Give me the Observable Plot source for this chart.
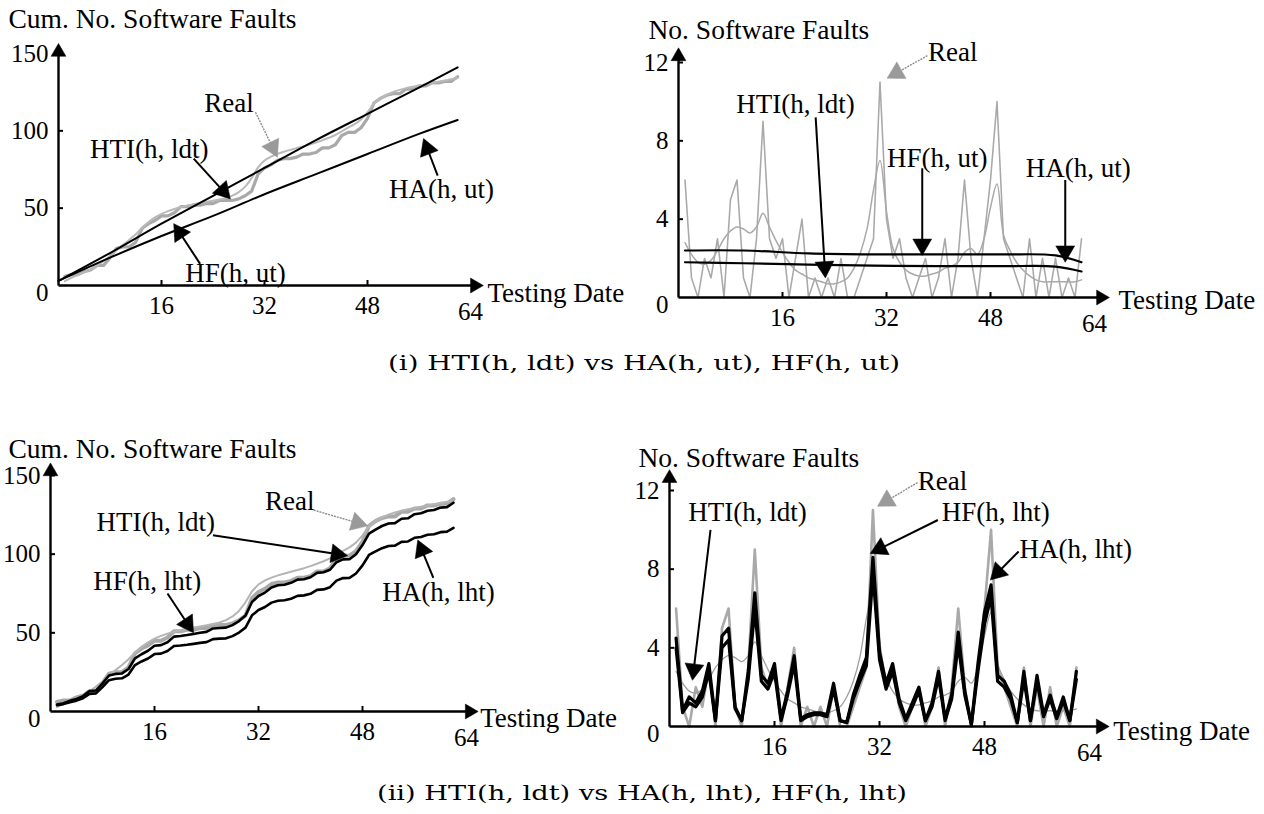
<!DOCTYPE html>
<html><head><meta charset="utf-8">
<script src="https://cdn.jsdelivr.net/npm/d3@7"></script>
<script src="https://cdn.jsdelivr.net/npm/@observablehq/plot@0.6"></script>
<style>
body{margin:0;background:#fff;}
#fig{position:relative;width:1264px;height:814px;overflow:hidden;font-family:"Liberation Serif",serif;}
.panel{position:absolute;}
</style></head><body><div id="fig"></div>
<script>
// ---------------- data ----------------
const days = d3.range(1, 63); // testing dates 1..62
const realDaily = [6,1,0,2,1,3,0,5,6,1,0,3,9,3,2,3,
  0,2,4,0,1,0,1,0,2,0,0,1,2,3,11,
  4,2,3,1,0,1,2,0,1,3,0,2,6,2,0,3,6,
  10,3,2,1,0,3,0,2,0,2,0,1,0,3];
const htiDaily = [2.8,2.2,1.8,1.7,1.9,2.4,3.0,3.4,3.6,3.5,
  3.3,3.6,4.3,3.6,2.9,2.3,1.8,1.4,1.2,1.0,
  0.9,0.8,0.7,0.7,0.8,1.0,1.5,2.3,3.5,5.5,
  7.0,4.4,2.5,1.8,1.4,1.2,1.1,1.1,1.2,1.3,
  1.5,1.6,1.8,2.3,2.5,2.2,3.0,4.6,5.8,3.2,
  2.4,1.8,1.4,1.1,0.9,0.8,0.8,0.8,0.8,0.8,0.8,0.9];
const hfLhtDaily = [4.5,0.8,1.5,1.2,1.8,3.2,0.3,4.6,5.0,1.0,0.3,2.8,6.8,2.6,2.2,3.2,
  0.4,1.8,3.6,0.4,0.6,0.7,0.7,0.6,2.2,0.3,0.2,1.6,2.6,3.5,8.6,
  3.8,2.2,3.2,1.4,0.4,1.2,2.0,0.3,1.2,2.8,0.4,1.6,4.8,1.8,0.1,3.2,5.8,
  7.2,2.6,2.3,1.6,0.2,2.8,0.3,2.6,0.6,1.6,0.5,1.5,0.3,2.8];
const haLhtDaily = [4.0,0.7,1.2,1.0,1.5,2.8,0.3,4.0,4.4,0.9,0.3,2.4,6.0,2.3,1.9,2.8,
  0.3,1.6,3.2,0.3,0.5,0.6,0.6,0.5,1.9,0.3,0.2,1.4,2.3,3.1,7.8,
  3.4,1.9,2.8,1.2,0.3,1.0,1.8,0.3,1.0,2.5,0.3,1.4,4.2,1.6,0.1,2.8,5.2,
  6.6,2.3,2.0,1.4,0.2,2.4,0.3,2.3,0.5,1.4,0.4,1.3,0.3,2.4];
// (h, ut) models
const cumKnotDays = [0, 8, 16, 24, 32, 40, 48, 56, 62];
const hfUtCum = [3, 21, 40, 58, 76, 94, 111, 128, 141];
const haUtCum = [3, 18, 32, 45, 59, 72, 85, 98, 107];
const rateKnotDays = [1, 10, 20, 30, 40, 50, 58, 62];
const hfUtRate = [2.4, 2.4, 2.25, 2.2, 2.2, 2.2, 2.15, 1.8];
const haUtRate = [1.8, 1.75, 1.68, 1.63, 1.6, 1.6, 1.58, 1.33];
// ticks
const xTicks = [16, 32, 48];
const xLastTick = [64];
const cumTicks = [50, 100, 150];
const rateTicks = [4, 8, 12];
// annotations (label position and arrow, in data units)
const notesTL = [
  {label: "Real", tx: 26.5, ty: 118, ax1: 30.6, ay1: 112, ax2: 34, ay2: 83, gray: true},
  {label: "HTI(h, ldt)", tx: 14.1, ty: 88, ax1: 21, ay1: 82, ax2: 26.7, ay2: 56},
  {label: "HA(h, ut)", tx: 59.5, ty: 62, ax1: 58.9, ay1: 71, ax2: 56.7, ay2: 95},
  {label: "HF(h, ut)", tx: 27.5, ty: 7.8, ax1: 22, ay1: 14, ax2: 17.9, ay2: 40}
];
const notesTR = [
  {label: "Real", tx: 42.2, ty: 12.5, ax1: 38.3, ay1: 12.35, ax2: 32.1, ay2: 11.2, gray: true},
  {label: "HTI(h, ldt)", tx: 18, ty: 9.85, ax1: 21.1, ay1: 9.2, ax2: 22.6, ay2: 1.0},
  {label: "HF(h, ut)", tx: 39.8, ty: 7.1, ax1: 37.5, ay1: 6.6, ax2: 37.5, ay2: 2.15},
  {label: "HA(h, ut)", tx: 61.5, ty: 6.6, ax1: 59.5, ay1: 6.0, ax2: 59.5, ay2: 1.8}
];
const notesBL = [
  {label: "Real", tx: 36.8, ty: 133.5, ax1: 40.5, ay1: 128, ax2: 48.8, ay2: 118, gray: true},
  {label: "HTI(h, ldt)", tx: 16.2, ty: 120, ax1: 25, ay1: 112, ax2: 45.7, ay2: 99},
  {label: "HF(h, lht)", tx: 14.9, ty: 83, ax1: 18, ay1: 75, ax2: 22, ay2: 50},
  {label: "HA(h, lht)", tx: 59.7, ty: 76, ax1: 58.9, ay1: 85, ax2: 56.5, ay2: 109}
];
const notesBR = [
  {label: "Real", tx: 41.6, ty: 12.45, ax1: 37.8, ay1: 12.4, ax2: 31.7, ay2: 11.2, gray: true},
  {label: "HTI(h, ldt)", tx: 11.9, ty: 10.9, ax1: 6.25, ay1: 10.0, ax2: 3.5, ay2: 2.35},
  {label: "HF(h, lht)", tx: 49.7, ty: 10.9, ax1: 40.9, ay1: 10.5, ax2: 30.6, ay2: 8.8},
  {label: "HA(h, lht)", tx: 61.9, ty: 9.0, ax1: 53.2, ay1: 8.9, ax2: 48.9, ay2: 7.45}
];
const captions = ["(i) HTI(h, ldt) vs HA(h, ut), HF(h, ut)", "(ii) HTI(h, ldt) vs HA(h, lht), HF(h, lht)"];

// ---------------- derived tables ----------------
const realCum = d3.cumsum(realDaily), htiCum = d3.cumsum(htiDaily);
const hfCum = d3.cumsum(hfLhtDaily), haCum = d3.cumsum(haLhtDaily);
const rows = days.map((d, i) => ({day: d, real: realDaily[i], hti: htiDaily[i], hf: hfLhtDaily[i], ha: haLhtDaily[i],
  realCum: realCum[i], htiCum: htiCum[i], hfCum: hfCum[i], haCum: haCum[i]}));
const utCumRows = cumKnotDays.map((d, i) => ({day: d, hf: hfUtCum[i], ha: haUtCum[i]}));
const utRateRows = rateKnotDays.map((d, i) => ({day: d, hf: hfUtRate[i], ha: haUtRate[i]}));

const GRAY = "#a9a9a9";
const FONT = "Liberation Serif";

function panel(cfg) {
  const {w, h, ml, mr, mt, mb, ydom, yticks, xEnd, yEnd, lines, notes, title, tdx, tdy, ddx, ddy} = cfg;
  const sx = d3.scaleLinear([0, 64], [ml, w - mr]);
  const sy = d3.scaleLinear(ydom, [h - mb, mt]);
  const shafts = [], heads = [];
  function addArrow(x1, y1, x2, y2, r, gray, kind) {
    const p1 = [sx(x1), sy(y1)], p2 = [sx(x2), sy(y2)];
    const L = Math.hypot(p2[0] - p1[0], p2[1] - p1[1]);
    const ux = (p2[0] - p1[0]) / L, uy = (p2[1] - p1[1]) / L;
    const c = [p2[0] - ux * 1.555 * r, p2[1] - uy * 1.555 * r];
    shafts.push({x1, y1, x2: sx.invert(c[0]), y2: sy.invert(c[1]), gray, kind});
    heads.push({x: sx.invert(c[0]), y: sy.invert(c[1]), rot: Math.atan2(ux, -uy) * 180 / Math.PI, gray, kind});
  }
  addArrow(0, 0, xEnd, 0, 5.5, false, "axis");
  addArrow(0, 0, 0, yEnd, 5.5, false, "axis");
  notes.forEach(n => addArrow(n.ax1, n.ay1, n.ax2, n.ay2, 7, !!n.gray, "note"));
  return Plot.plot({
    width: w, height: h, marginLeft: ml, marginRight: mr, marginTop: mt, marginBottom: mb,
    x: {domain: [0, 64], label: null},
    y: {domain: ydom, label: null},
    style: {background: "transparent", overflow: "visible", fontFamily: FONT, fontSize: "25px", color: "black"},
    marks: [
      ...lines,
      Plot.link(shafts.filter(s => s.kind === "axis"), {x1: "x1", y1: "y1", x2: "x2", y2: "y2", stroke: "black", strokeWidth: 2.4}),
      Plot.link(shafts.filter(s => s.kind === "note" && !s.gray), {x1: "x1", y1: "y1", x2: "x2", y2: "y2", stroke: "black", strokeWidth: 2}),
      Plot.link(shafts.filter(s => s.kind === "note" && s.gray), {x1: "x1", y1: "y1", x2: "x2", y2: "y2", stroke: "#8c8c8c", strokeWidth: 1.4, strokeDasharray: "2,1"}),
      Plot.dot(heads.filter(s => s.kind === "axis"), {x: "x", y: "y", r: 5.5, symbol: "triangle", rotate: "rot", fill: "black", stroke: "black", strokeWidth: 0.5}),
      Plot.dot(heads.filter(s => s.kind === "note" && !s.gray), {x: "x", y: "y", r: 7, symbol: "triangle", rotate: "rot", fill: "black", stroke: "black", strokeWidth: 0.5}),
      Plot.dot(heads.filter(s => s.kind === "note" && s.gray), {x: "x", y: "y", r: 7, symbol: "triangle", rotate: "rot", fill: "#9a9a9a", stroke: "#9a9a9a", strokeWidth: 0.5}),
      Plot.axisX({ticks: xTicks, tickSize: -5, tickPadding: 16, fontSize: 25, label: null, tickFormat: d => String(d), strokeWidth: 2}),
      Plot.axisX({ticks: xLastTick, tickSize: 0, tickPadding: 17, fontSize: 25, label: null, tickFormat: d => String(d)}),
      Plot.axisY({ticks: yticks, tickSize: -5, tickPadding: 15, fontSize: 25, label: null, tickFormat: d => String(d), strokeWidth: 2}),
      Plot.axisY({ticks: [0], tickSize: 0, tickPadding: 10, dy: 7, fontSize: 25, label: null, tickFormat: d => String(d)}),
      Plot.text(notes, {x: "tx", y: "ty", text: "label", fontSize: 27, fill: "black", textAnchor: "middle", lineAnchor: "middle"}),
      Plot.text([title], {x: () => 0, y: () => ydom[1], text: d => d, dx: tdx, dy: tdy, textAnchor: "start", fontSize: 27.5, fill: "black"}),
      Plot.text(["Testing Date"], {x: () => xEnd, y: () => 0, text: d => d, dx: ddx, dy: ddy, textAnchor: "start", fontSize: 27, fill: "black"})
    ]
  });
}

const fig = document.getElementById("fig");
function place(svg, left, top) {
  const div = document.createElement("div");
  div.className = "panel";
  div.style.left = left + "px";
  div.style.top = top + "px";
  div.appendChild(svg);
  fig.appendChild(div);
}

// (i) top-left: cumulative, (h, ut)
place(panel({
  w: 640, h: 330, ml: 58, mr: 170, mt: 53, mb: 45, ydom: [0, 150], yticks: cumTicks, xEnd: 66, yEnd: 156.5,
  title: "Cum. No. Software Faults", tdx: -50, tdy: -34, ddx: 4, ddy: 8,
  notes: notesTL,
  lines: [
    Plot.line(rows, {x: "day", y: "realCum", stroke: GRAY, strokeWidth: 3.2}),
    Plot.line(rows, {x: "day", y: "htiCum", stroke: "#b9b9b9", strokeWidth: 2, curve: "catmull-rom"}),
    Plot.line(utCumRows, {x: "day", y: "hf", stroke: "black", strokeWidth: 2, curve: "catmull-rom"}),
    Plot.line(utCumRows, {x: "day", y: "ha", stroke: "black", strokeWidth: 2, curve: "catmull-rom"})
  ]
}), 0, 0);

// (i) top-right: daily, (h, ut)
place(panel({
  w: 644, h: 340, ml: 58, mr: 170, mt: 62, mb: 43, ydom: [0, 12], yticks: rateTicks, xEnd: 66.3, yEnd: 12.75,
  title: "No. Software Faults", tdx: -30, tdy: -32, ddx: 9, ddy: 3,
  notes: notesTR,
  lines: [
    Plot.line(rows, {x: "day", y: "real", stroke: GRAY, strokeWidth: 1.6, strokeDasharray: "2,0.6"}),
    Plot.line(rows, {x: "day", y: "hti", stroke: GRAY, strokeWidth: 1.5, curve: "catmull-rom"}),
    Plot.line(utRateRows, {x: "day", y: "hf", stroke: "black", strokeWidth: 2.2, curve: "catmull-rom"}),
    Plot.line(utRateRows, {x: "day", y: "ha", stroke: "black", strokeWidth: 2.2, curve: "catmull-rom"})
  ]
}), 620, 0);

// (ii) bottom-left: cumulative, (h, lht)
place(panel({
  w: 640, h: 330, ml: 50, mr: 174, mt: 45, mb: 49, ydom: [0, 150], yticks: cumTicks, xEnd: 65.8, yEnd: 158,
  title: "Cum. No. Software Faults", tdx: -42, tdy: -26, ddx: 2, ddy: 7,
  notes: notesBL,
  lines: [
    Plot.line(rows, {x: "day", y: "realCum", stroke: GRAY, strokeWidth: 4}),
    Plot.line(rows, {x: "day", y: "htiCum", stroke: "#b5b5b5", strokeWidth: 2}),
    Plot.line(rows, {x: "day", y: "hfCum", stroke: "black", strokeWidth: 2.6}),
    Plot.line(rows, {x: "day", y: "haCum", stroke: "black", strokeWidth: 2.6})
  ]
}), 0, 430);

// (ii) bottom-right: daily, (h, lht)
place(panel({
  w: 644, h: 340, ml: 49, mr: 175, mt: 60, mb: 44, ydom: [0, 12], yticks: rateTicks, xEnd: 67, yEnd: 13.06,
  title: "No. Software Faults", tdx: -31, tdy: -32, ddx: 4, ddy: 5,
  notes: notesBR,
  lines: [
    Plot.line(rows, {x: "day", y: "real", stroke: GRAY, strokeWidth: 2.6}),
    Plot.line(rows, {x: "day", y: "hti", stroke: "#9e9e9e", strokeWidth: 1.3, curve: "catmull-rom"}),
    Plot.line(rows, {x: "day", y: "ha", stroke: "black", strokeWidth: 3.2}),
    Plot.line(rows, {x: "day", y: "hf", stroke: "black", strokeWidth: 3.2})
  ]
}), 620, 430);

// captions
const caps = d3.create("svg").attr("width", 1264).attr("height", 814)
  .style("position", "absolute").style("left", "0px").style("top", "0px").style("pointer-events", "none");
const capLayout = [{x: 388, y: 370, len: 512}, {x: 377, y: 800, len: 530}];
caps.selectAll("text").data(captions).join("text")
  .attr("x", (d, i) => capLayout[i].x).attr("y", (d, i) => capLayout[i].y)
  .attr("textLength", (d, i) => capLayout[i].len).attr("lengthAdjust", "spacingAndGlyphs")
  .attr("font-family", "DejaVu Serif").attr("font-size", 21).attr("fill", "black")
  .text(d => d);
fig.appendChild(caps.node());
</script></body></html>
